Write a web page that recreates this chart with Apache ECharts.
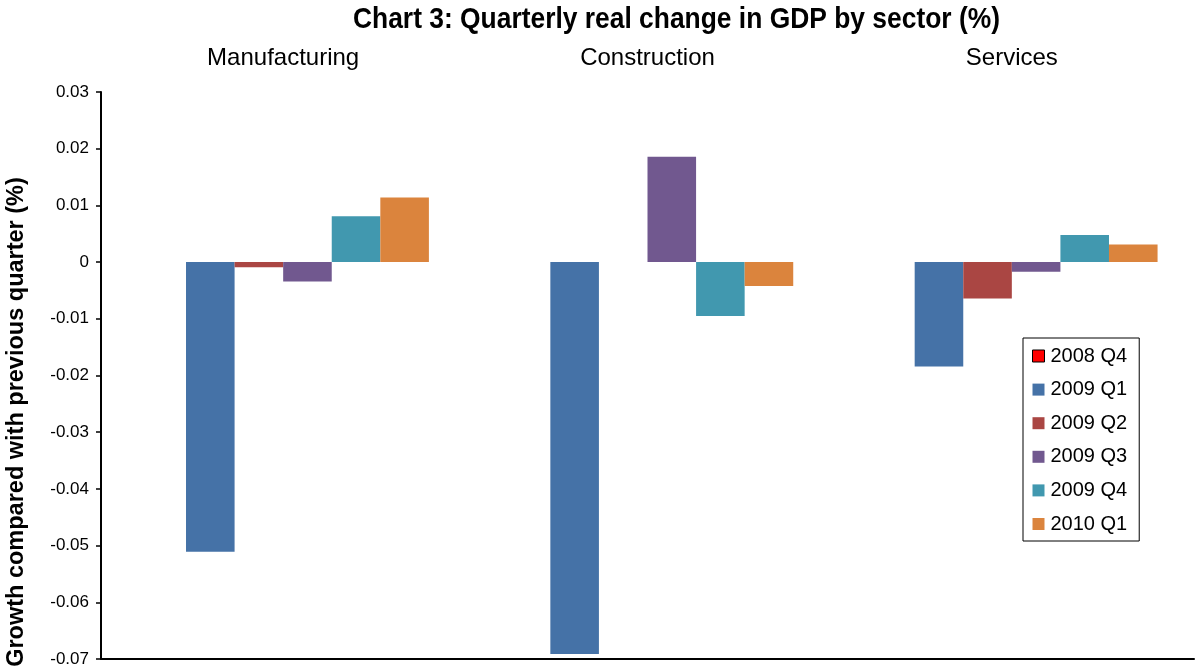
<!DOCTYPE html>
<html>
<head>
<meta charset="utf-8">
<title>Quarterly real change in GDP by sector</title>
<script src="https://cdn.jsdelivr.net/npm/echarts@6/dist/echarts.min.js"></script>
<style>
  html, body { margin: 0; padding: 0; background: #ffffff; }
  #chart { width: 1197px; height: 670px; }
</style>
</head>
<body>
<div id="chart"></div>
<script>
// Sectors along the category axis
const sectors = ['Manufacturing', 'Construction', 'Services'];

// Quarter-on-quarter real growth, one array per quarter (Manufacturing, Construction, Services)
const q2008Q4 = [0, 0, 0];
const q2009Q1 = [-0.0511, -0.0691, -0.0184];
const q2009Q2 = [-0.0009, 0, -0.0064];
const q2009Q3 = [-0.0034, 0.0186, -0.0017];
const q2009Q4 = [0.0081, -0.0095, 0.0048];
const q2010Q1 = [0.0114, -0.0042, 0.0031];

const quarterNames = ['2008 Q4', '2009 Q1', '2009 Q2', '2009 Q3', '2009 Q4', '2010 Q1'];
const quarterData = [q2008Q4, q2009Q1, q2009Q2, q2009Q3, q2009Q4, q2010Q1];
const quarterColors = ['#ff0000', '#4572a7', '#aa4643', '#71588f', '#4198af', '#db843d'];

const FONT = '"Liberation Sans", Arial, Helvetica, sans-serif';

const chart = echarts.init(document.getElementById('chart'), null, { renderer: 'canvas' });

const series = quarterNames.map((name, i) => ({
  name: name,
  type: 'bar',
  xAxisIndex: 0,
  data: quarterData[i],
  barGap: '0%',
  barCategoryGap: '20%',
  itemStyle: { color: quarterColors[i] },
  emphasis: { disabled: true }
}));

chart.setOption({
  animation: false,
  backgroundColor: '#ffffff',
  textStyle: { fontFamily: FONT },
  grid: { left: 101, right: 3, top: 92, bottom: 11, containLabel: false },
  legend: {
    orient: 'vertical',
    left: 1023,
    top: 338,
    width: 115,
    data: quarterNames.map((n, i) => i === 0
      ? { name: n, itemStyle: { borderColor: '#000000', borderWidth: 1 } }
      : { name: n }),
    icon: 'rect',
    itemWidth: 12,
    itemHeight: 12,
    itemGap: 13.6,
    padding: [8, 12, 7, 9],
    borderColor: '#000000',
    borderWidth: 1,
    backgroundColor: '#ffffff',
    textStyle: { fontFamily: FONT, fontSize: 20, color: '#000000', padding: [0, 0, 0, 1], lineHeight: 20 }
  },
  xAxis: [
    {
      type: 'category',
      data: sectors,
      position: 'top',
      axisLine: { show: false },
      axisTick: { show: false },
      axisLabel: { fontFamily: FONT, fontSize: 24, color: '#000000', margin: 22 },
      splitLine: { show: false }
    },
    {
      type: 'category',
      data: sectors,
      position: 'bottom',
      axisLine: { show: true, onZero: true, lineStyle: { color: '#000000', width: 2 } },
      axisTick: { show: false },
      axisLabel: { show: false },
      splitLine: { show: false }
    }
  ],
  yAxis: {
    type: 'value',
    min: -0.07,
    max: 0.03,
    interval: 0.01,
    axisLine: { show: true, onZero: false, lineStyle: { color: '#000000', width: 2 } },
    axisTick: { show: true, inside: false, length: 5, lineStyle: { color: '#000000', width: 1.5 } },
    axisLabel: {
      fontFamily: FONT,
      fontSize: 17,
      color: '#000000',
      margin: 12,
      formatter: v => {
        const r = Math.round(v * 100) / 100;
        return r === 0 ? '0' : r.toFixed(2);
      }
    },
    splitLine: { show: false }
  },
  graphic: [
    {
      // chart title, set in a condensed bold face
      type: 'text',
      x: 353,
      y: 20,
      scaleX: 0.88,
      style: {
        text: 'Chart 3: Quarterly real change in GDP by sector (%)',
        fontFamily: FONT,
        fontWeight: 'bold',
        fontSize: 30,
        fill: '#000000',
        align: 'left',
        verticalAlign: 'middle'
      }
    },
    {
      // value axis name, reading bottom to top
      type: 'text',
      x: 17,
      y: 422,
      rotation: Math.PI / 2,
      style: {
        text: 'Growth compared with previous quarter (%)',
        fontFamily: FONT,
        fontWeight: 'bold',
        fontSize: 23.5,
        fill: '#000000',
        align: 'center',
        verticalAlign: 'middle'
      }
    }
  ],
  series: series
});
</script>
</body>
</html>
